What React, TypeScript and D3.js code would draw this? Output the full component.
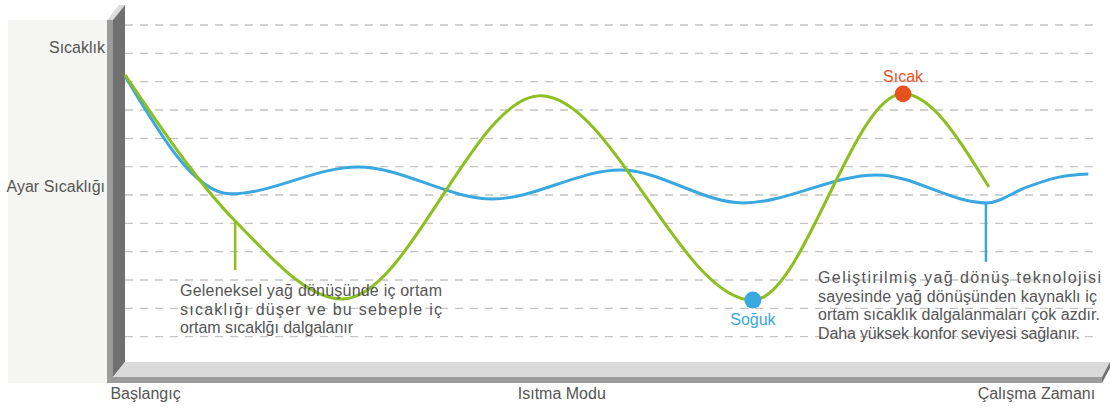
import React from 'react';
import * as d3 from 'd3';

// time axis 0..100, temperature axis 0..12 (one unit per grid line)
const blueT = [0, 10.8, 23.9, 37.7, 50.8, 63.4, 77.1, 88.4, 92.5, 95.9, 98.8];
const blueV = [10.2, 6.04, 6.99, 5.86, 6.88, 5.72, 6.71, 5.72, 6.28, 6.64, 6.74];

const greenT = [0, 11.3, 22.3, 42.6, 64.4, 79.8, 88.6];
const greenV = [10.24, 5.08, 2.33, 9.5, 2.29, 9.57, 6.28];

const gridValues = [1, 2, 3, 4, 5, 6, 7, 8, 9, 10, 11, 12];

const yLabels = ['Sıcaklık', 'Ayar Sıcaklığı'];
const yLabelValues = [11.0, 6.1];

const xLabels = ['Başlangıç', 'Isıtma Modu', 'Çalışma Zamanı'];
const xLabelValues = [-1.5, 44.8, 99.5];
const xLabelAnchors = ['start', 'middle', 'end'];

const markerLabels = ['Sıcak', 'Soğuk'];
const markerT = [79.8, 64.4];
const markerV = [9.57, 2.29];

// annotation pointers: [t, from value, to value]
const greenPointer = [11.3, 5.08, 3.35];
const bluePointer = [88.3, 5.72, 3.64];

const leftNote = ['Geleneksel yağ dönüşünde iç ortam', 'sıcaklığı düşer ve bu sebeple iç', 'ortam sıcaklğı dalgalanır'];
const leftNoteWidths = [262, 262, 173];
const rightNote = [
  'Geliştirilmiş yağ dönüş teknolojisi',
  'sayesinde yağ dönüşünden kaynaklı iç',
  'ortam sıcaklık dalgalanmaları çok azdır.',
  'Daha yüksek konfor seviyesi sağlanır.',
];
const rightNoteWidths = [283, 279, 282, 262];

const GREEN = '#8cbf1f';
const BLUE = '#3aa8e0';
const RED = '#e8501e';
const TEXT = '#555555';
const FONT = '"Liberation Sans", Arial, sans-serif';

export default function App() {
  const width = 1110;
  const height = 408;

  const x = d3.scaleLinear().domain([0, 100]).range([125, 1100]);
  const y = d3.scaleLinear().domain([0, 12]).range([365, 25]);

  const line = d3
    .line<[number, number]>()
    .x((d) => x(d[0]))
    .y((d) => y(d[1]))
    .curve(d3.curveMonotoneX);

  const blueData = blueT.map((t, i) => [t, blueV[i]] as [number, number]);
  const greenData = greenT.map((t, i) => [t, greenV[i]] as [number, number]);

  return (
    <svg
      width={width}
      height={height}
      style={{ position: 'absolute', left: 0, top: 0, display: 'block', fontFamily: FONT }}
    >
      <rect x={0} y={0} width={width} height={height} fill="#fff" />
      {/* left panel */}
      <rect x={8} y={20} width={100} height={363} fill="#f5f5f3" />

      {/* grid */}
      {gridValues.map((v) => (
        <line
          key={v}
          x1={x(0)}
          x2={x(100)}
          y1={y(v)}
          y2={y(v)}
          stroke="#c4c4c4"
          strokeWidth={1.3}
          strokeDasharray="8,7"
        />
      ))}

      {/* 3d wall + floor */}
      <polygon points="107,20 113,20 125,5 119,5" fill="#dcdcdc" />
      <rect x={107} y={20} width={6} height={363} fill="#9c9c9c" />
      <polygon points="113,20 125,5 125,362 113,377" fill="#707070" />
      <polygon points="125,362 1110,362 1102,377 113,377" fill="#dadada" />
      <rect x={107} y={377} width={995} height={6} fill="#9c9c9c" />
      <polygon points="1102,377 1110,362 1110,368 1102,383" fill="#707070" />

      {/* y labels */}
      {yLabels.map((l, i) => (
        <text key={l} x={105} y={y(yLabelValues[i])} textAnchor="end" fontSize={16} fill={TEXT}>
          {l}
        </text>
      ))}

      {/* x labels */}
      {xLabels.map((l, i) => (
        <text
          key={l}
          x={x(xLabelValues[i])}
          y={399}
          textAnchor={xLabelAnchors[i]}
          fontSize={16}
          fill={TEXT}
        >
          {l}
        </text>
      ))}

      {/* pointers */}
      <line
        x1={x(greenPointer[0])}
        x2={x(greenPointer[0])}
        y1={y(greenPointer[1])}
        y2={y(greenPointer[2])}
        stroke={GREEN}
        strokeWidth={2.5}
      />
      <line
        x1={x(bluePointer[0])}
        x2={x(bluePointer[0])}
        y1={y(bluePointer[1])}
        y2={y(bluePointer[2])}
        stroke={BLUE}
        strokeWidth={2.5}
      />

      {/* curves */}
      <path d={line(blueData) || ''} fill="none" stroke={BLUE} strokeWidth={3} />
      <path d={line(greenData) || ''} fill="none" stroke={GREEN} strokeWidth={3} />

      {/* markers */}
      <circle cx={x(markerT[0])} cy={y(markerV[0])} r={8.3} fill={RED} />
      <text x={x(markerT[0])} y={y(markerV[0]) - 12} textAnchor="middle" fontSize={16} fill={RED}>
        {markerLabels[0]}
      </text>
      <circle cx={x(markerT[1])} cy={y(markerV[1])} r={8.5} fill={BLUE} />
      <text x={x(markerT[1])} y={y(markerV[1]) + 25} textAnchor="middle" fontSize={16} fill={BLUE}>
        {markerLabels[1]}
      </text>

      {/* notes */}
      {leftNote.map((l, i) => (
        <text
          key={l}
          x={180}
          y={296 + i * 18.5}
          fontSize={16}
          fill={TEXT}
          textLength={leftNoteWidths[i]}
          lengthAdjust="spacing"
        >
          {l}
        </text>
      ))}
      {rightNote.map((l, i) => (
        <text
          key={l}
          x={818}
          y={283 + i * 18.7}
          fontSize={16}
          fill={TEXT}
          textLength={rightNoteWidths[i]}
          lengthAdjust="spacing"
        >
          {l}
        </text>
      ))}
    </svg>
  );
}
